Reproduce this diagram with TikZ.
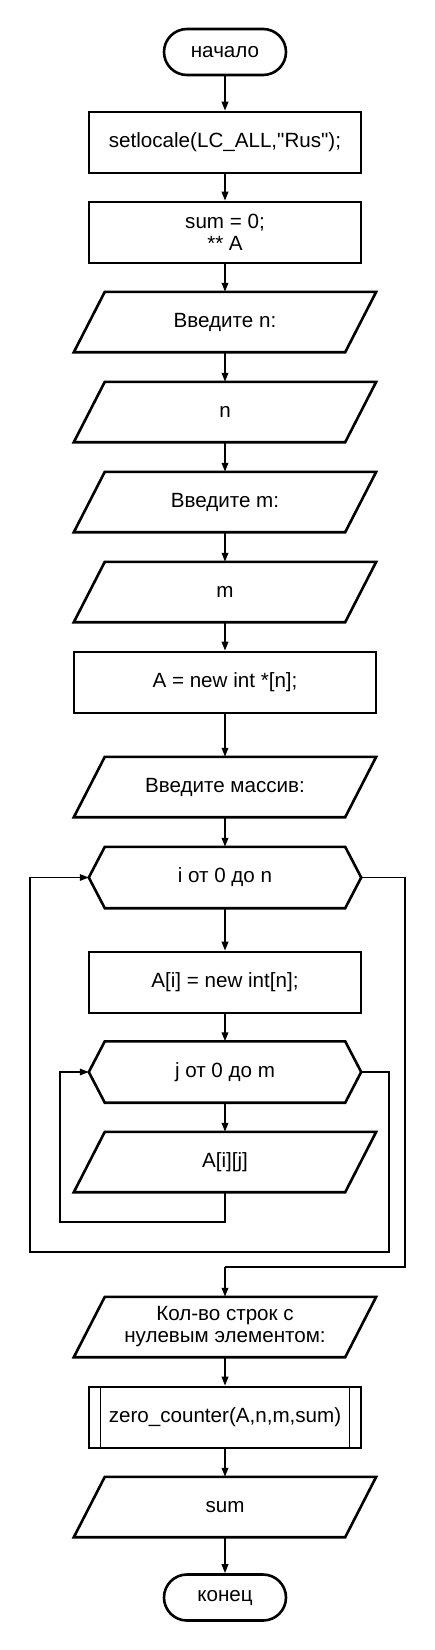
\documentclass[tikz,border=0pt]{standalone}
\usepackage{fontspec}
\setmainfont{Liberation Sans}[Ligatures=TeXOff]
\usetikzlibrary{arrows.meta,calc}
\tikzset{
  shapeline/.style={line width=2.6pt, line join=miter},
  box/.style={draw, shapeline, rectangle, minimum width=272pt, minimum height=61pt, inner sep=0pt, align=center},
  term/.style={draw, shapeline, rectangle, rounded corners=23pt, minimum width=122pt, minimum height=46pt, inner sep=0pt},
  iobody/.style={rectangle, minimum width=240pt, minimum height=60pt, inner sep=0pt, align=center},
  hexbody/.style={rectangle, minimum width=240pt, minimum height=61pt, inner sep=0pt, align=center},
  flow/.style={line width=1.8pt, -{Triangle[length=9pt,width=6.5pt]}},
  loopline/.style={line width=1.5pt},
  looparrow/.style={line width=1.5pt, -{Triangle[length=9pt,width=6.5pt]}},
}
\newcommand{\drawio}[1]{%
  \draw[shapeline] (#1.north west) -- ($(#1.north east)+(31pt,0)$) -- (#1.south east) -- ($(#1.south west)+(-31pt,0)$) -- cycle;}
\newcommand{\drawhex}[1]{%
  \draw[shapeline] (#1.north west) -- (#1.north east) -- ($(#1.east)+(16pt,0)$) -- (#1.south east) -- (#1.south west) -- ($(#1.west)+(-16pt,0)$) -- cycle;}
\begin{document}
\begin{tikzpicture}[x=1pt,y=-1pt, font=\fontsize{20.6}{22}\selectfont]
\useasboundingbox (0,0) rectangle (435,1650);
\fill[white] (0,0) rectangle (435,1650);

\node[term] (start) at (225,52) {начало};
\node[box] (setl) at (225,142.5) {setlocale(LC\_ALL,"Rus");};
\node[box] (sum0) at (225,232.5) {sum = 0;\\** A};
\node[iobody] (inN) at (225,322) {Введите n:}; \drawio{inN}
\node[iobody] (rdN) at (225,412) {n}; \drawio{rdN}
\node[iobody] (inM) at (225,502) {Введите m:}; \drawio{inM}
\node[iobody] (rdM) at (225,592) {m}; \drawio{rdM}
\node[box, minimum width=302pt] (allocA) at (225,682.5) {A = new int *[n];};
\node[iobody] (inArr) at (225,787) {Введите массив:}; \drawio{inArr}
\node[hexbody] (loopI) at (225,877.5) {i от 0 до n}; \drawhex{loopI}
\node[box] (allocRow) at (225,982.5) {A[i] = new int[n];};
\node[hexbody] (loopJ) at (225,1072) {j от 0 до m}; \drawhex{loopJ}
\node[iobody] (rdAij) at (225,1162) {A[i][j]}; \drawio{rdAij}
\node[iobody] (outTxt) at (225,1327) {Кол-во строк с\\нулевым элементом:}; \drawio{outTxt}
\node[box] (zc) at (225,1417.5) {zero\_counter(A,n,m,sum)};
\draw[line width=1.5pt] ($(zc.north west)+(13pt,0)$) -- ($(zc.south west)+(13pt,0)$);
\draw[line width=1.5pt] ($(zc.north east)+(-13pt,0)$) -- ($(zc.south east)+(-13pt,0)$);
\node[iobody] (outSum) at (225,1507) {sum}; \drawio{outSum}
\node[term] (fin) at (225,1597.5) {конец};

\coordinate (iW) at ($(loopI.west)+(-16pt,0)$);
\coordinate (iE) at ($(loopI.east)+(16pt,0)$);
\coordinate (jW) at ($(loopJ.west)+(-16pt,0)$);
\coordinate (jE) at ($(loopJ.east)+(16pt,0)$);

\draw[flow] (start) -- (setl);
\draw[flow] (setl) -- (sum0);
\draw[flow] (sum0) -- (inN);
\draw[flow] (inN) -- (rdN);
\draw[flow] (rdN) -- (inM);
\draw[flow] (inM) -- (rdM);
\draw[flow] (rdM) -- (allocA);
\draw[flow] (allocA) -- (inArr);
\draw[flow] (inArr) -- (loopI);
\draw[flow] (loopI) -- (allocRow);
\draw[flow] (allocRow) -- (loopJ);
\draw[flow] (loopJ) -- (rdAij);
\draw[flow] (outTxt) -- (zc);
\draw[flow] (zc) -- (outSum);
\draw[flow] (outSum) -- (fin);

% inner loop back
\draw[looparrow] (rdAij.south) -- (225,1222) -- (60,1222) -- (60,1072) -- (jW);
% inner loop exit -> outer loop back
\draw[looparrow] (jE) -- (389,1072) -- (389,1252) -- (30,1252) -- (30,877.5) -- (iW);
% outer loop exit
\draw[loopline] (iE) -- (405,877.5) -- (405,1267) -- (225,1267);
\draw[flow] (225,1267) -- (outTxt.north);
\end{tikzpicture}
\end{document}
